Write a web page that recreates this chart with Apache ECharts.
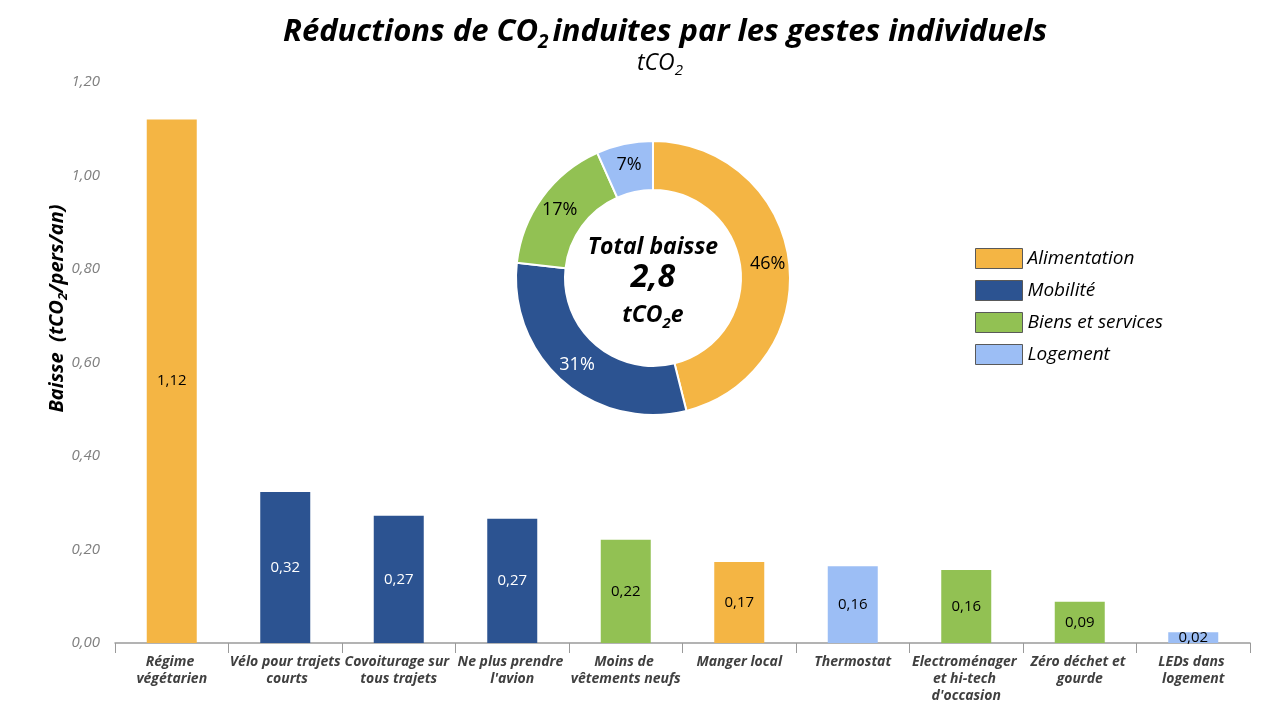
<!DOCTYPE html>
<html lang="fr">
<head>
    <meta charset="UTF-8">
    <title>Réductions de CO2</title>
    <script src="https://cdn.jsdelivr.net/npm/echarts@6/dist/echarts.min.js"></script>
    <style>
        html, body { margin: 0; padding: 0; background: #fff; }
        #container { width: 1278px; height: 720px; }
    </style>
</head>
<body>
<div id="container"></div>
<script type="text/javascript">
    // gestes, valeurs (tCO2/pers/an) et famille de chaque geste
    let gestes = ['Régime végétarien', 'Vélo pour trajets courts', 'Covoiturage sur tous trajets', 'Ne plus prendre l\'avion',
        'Moins de vêtements neufs', 'Manger local', 'Thermostat', 'Electroménager et hi-tech d\'occasion',
        'Zéro déchet et gourde', 'LEDs dans logement'];
    let baisse = [1.12, 0.323, 0.272, 0.266, 0.221, 0.173, 0.164, 0.156, 0.088, 0.023];
    let famille = [0, 1, 1, 1, 2, 0, 3, 2, 2, 3];
    let familles = ['Alimentation', 'Mobilité', 'Biens et services', 'Logement'];
    let couleurs = ['#F4B544', '#2C5391', '#92C153', '#9CBEF5'];
    let yTicks = [0, 0.2, 0.4, 0.6, 0.8, 1.0, 1.2];

    const FONT = '"Open Sans", Lato, sans-serif';

    // total par famille pour le donut
    let totaux = [0, 0, 0, 0];
    for (let i = 0; i < baisse.length; i++) {
        totaux[famille[i]] += baisse[i];
    }
    let total = totaux.reduce(function (a, b) { return a + b; }, 0);

    let barData = baisse.map(function (v, i) {
        return {
            value: v,
            itemStyle: { color: couleurs[famille[i]] },
            label: { color: famille[i] === 1 ? '#fff' : '#000' }
        };
    });
    let pieData = familles.map(function (n, i) {
        return {
            name: n,
            value: totaux[i],
            itemStyle: { color: couleurs[i] },
            label: { color: i === 1 ? '#fff' : '#000' }
        };
    });

    let chart = echarts.init(document.getElementById('container'));
    let option = {
        animation: false,
        textStyle: { fontFamily: FONT },
        title: [{
            text: '{t|Réductions de CO}{s|2}{t|induites par les gestes individuels}',
            left: 278,
            top: 5,
            textStyle: {
                rich: {
                    t: { fontFamily: FONT, fontSize: 31, fontWeight: 'bold', fontStyle: 'italic', color: '#000', lineHeight: 38, verticalAlign: 'bottom' },
                    s: { fontFamily: FONT, fontSize: 19, fontWeight: 'bold', fontStyle: 'italic', color: '#000', lineHeight: 32, verticalAlign: 'bottom', padding: [0, 4, -4, 0] }
                }
            }
        }, {
            text: '{t|tCO}{s|2}',
            left: 632,
            top: 42,
            textStyle: {
                rich: {
                    t: { fontFamily: FONT, fontSize: 23, fontWeight: 'normal', fontStyle: 'italic', color: '#000', lineHeight: 28, verticalAlign: 'bottom' },
                    s: { fontFamily: FONT, fontSize: 15, fontWeight: 'normal', fontStyle: 'italic', color: '#000', lineHeight: 24, verticalAlign: 'bottom', padding: [0, 0, -3, 0] }
                }
            }
        }],
        legend: {
            orient: 'vertical',
            left: 975,
            top: 248,
            padding: 0,
            itemWidth: 47,
            itemHeight: 20,
            itemGap: 11,
            icon: 'rect',
            data: familles,
            itemStyle: { borderColor: '#595959', borderWidth: 1 },
            textStyle: { fontFamily: FONT, fontSize: 19, fontStyle: 'italic', color: '#000', padding: [0, 0, 0, 0] }
        },
        grid: {
            left: 115,
            right: 28,
            top: 82,
            bottom: 77,
            containLabel: false
        },
        xAxis: {
            type: 'category',
            data: gestes,
            axisLine: { lineStyle: { color: '#9a9a9a', width: 1.5 } },
            axisTick: { show: true, length: 10, lineStyle: { color: '#9a9a9a' } },
            axisLabel: {
                interval: 0,
                margin: 11,
                width: 120,
                overflow: 'break',
                fontFamily: FONT,
                fontSize: 14,
                fontWeight: 'bold',
                fontStyle: 'italic',
                lineHeight: 17,
                color: '#404040'
            }
        },
        yAxis: {
            type: 'value',
            min: yTicks[0],
            max: yTicks[yTicks.length - 1],
            interval: 0.2,
            name: '{t|Baisse  (tCO}{s|2}{t|/pers/an)}',
            nameLocation: 'middle',
            nameGap: 48,
            nameMoveOverlap: false,
            nameTextStyle: {
                padding: [0, 0, 0, 108],
                rich: {
                    t: { fontFamily: FONT, fontSize: 20, fontWeight: 'bold', fontStyle: 'italic', color: '#000', lineHeight: 26, verticalAlign: 'bottom' },
                    s: { fontFamily: FONT, fontSize: 13, fontWeight: 'bold', fontStyle: 'italic', color: '#000', lineHeight: 22, verticalAlign: 'bottom', padding: [0, 0, -3, 0] }
                }
            },
            axisLine: { show: false },
            axisTick: { show: false },
            splitLine: { show: false },
            axisLabel: {
                margin: 15,
                fontFamily: FONT,
                fontSize: 15,
                fontStyle: 'italic',
                color: '#808080',
                formatter: function (v) { return v.toFixed(2).replace('.', ','); }
            }
        },
        series: [{
            type: 'bar',
            data: barData,
            barWidth: 50,
            label: {
                show: true,
                position: 'inside',
                fontFamily: FONT,
                fontSize: 15,
                formatter: function (p) { return p.value.toFixed(2).replace('.', ','); }
            },
            z: 2
        }, {
            type: 'pie',
            center: [653, 278],
            radius: [88, 137],
            startAngle: 90,
            clockwise: true,
            data: pieData,
            itemStyle: { borderColor: '#fff', borderWidth: 2 },
            label: {
                show: true,
                position: 'inside',
                fontFamily: FONT,
                fontSize: 18,
                formatter: function (p) { return Math.round(p.value / total * 100) + '%'; }
            },
            labelLine: { show: false },
            z: 5
        }],
        graphic: [{
            type: 'text',
            x: 653,
            y: 278,
            style: {
                align: 'center',
                verticalAlign: 'middle',
                text: '{a|Total baisse}\n{b|' + total.toFixed(1).replace('.', ',') + '}\n{a|tCO}{s|2}{a|e}',
                rich: {
                    a: { fontFamily: FONT, fontSize: 23, fontWeight: 'bold', fontStyle: 'italic', color: '#000', lineHeight: 30, align: 'center', verticalAlign: 'bottom' },
                    b: { fontFamily: FONT, fontSize: 32, fontWeight: 'bold', fontStyle: 'italic', color: '#000', lineHeight: 38, align: 'center' },
                    s: { fontFamily: FONT, fontSize: 15, fontWeight: 'bold', fontStyle: 'italic', color: '#000', lineHeight: 22, verticalAlign: 'bottom', padding: [0, 0, -4, 0] }
                }
            },
            z: 10
        }]
    };
    chart.setOption(option);
</script>
</body>
</html>
